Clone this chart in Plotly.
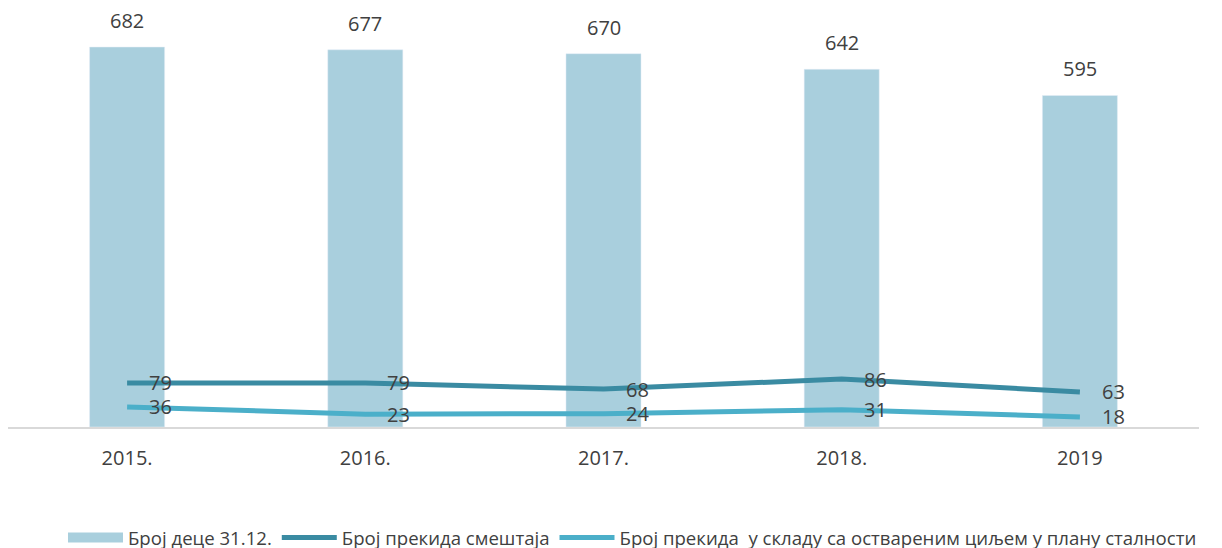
import plotly.graph_objects as go

years = ["2015.", "2016.", "2017.", "2018.", "2019"]
children = [682, 677, 670, 642, 595]
placement_breaks = [79, 79, 68, 86, 63]
goal_breaks = [36, 23, 24, 31, 18]

names = ["Број деце 31.12.", "Број прекида смештаја",
         "Број прекида  у складу са оствареним циљем у плану сталности"]

bar_color = "#A9CFDD"
dark_line = "#3A8BA2"
light_line = "#4BAFC9"
text_color = "#404040"
font_family = "Open Sans"

fig = go.Figure()
fig.add_trace(go.Bar(x=years, y=children, name=names[0],
                     marker_color=bar_color, showlegend=False))
# legend swatch for the bars: a wide flat rectangle like the original
fig.add_trace(go.Scatter(x=[None], y=[None], name=names[0], mode="lines",
                         line=dict(color=bar_color, width=10)))
fig.add_trace(go.Scatter(x=years, y=placement_breaks, name=names[1], mode="lines",
                         line=dict(color=dark_line, width=5)))
fig.add_trace(go.Scatter(x=years, y=goal_breaks, name=names[2], mode="lines",
                         line=dict(color=light_line, width=5)))

# bar labels above the bars (x given as category index, since the labels look numeric)
for i, v in enumerate(children):
    fig.add_annotation(x=i, y=v, text=str(v), showarrow=False, yanchor="bottom",
                       yshift=11, font=dict(size=20, color=text_color))
# line labels to the right of each point
for series in (placement_breaks, goal_breaks):
    for i, v in enumerate(series):
        fig.add_annotation(x=i, y=v, text=str(v), showarrow=False, xanchor="left",
                           xshift=20, font=dict(size=20, color=text_color))

fig.update_layout(
    width=1222, height=548,
    margin=dict(l=0, r=31, t=12, b=129),
    plot_bgcolor="white", paper_bgcolor="white",
    font=dict(family=font_family, color=text_color),
    bargap=0.685,
    showlegend=True,
    legend=dict(orientation="h", yref="container", y=0.033, yanchor="middle",
                xref="container", x=0.045, xanchor="left", itemwidth=55,
                font=dict(size=18.6, color=text_color), traceorder="normal"),
)
fig.update_xaxes(type="category", range=[-0.5, 4.5], showgrid=False, showline=True,
                 linecolor="#D9D9D9", linewidth=2, ticks="outside", ticklen=12,
                 tickcolor="rgba(0,0,0,0)", tickfont=dict(size=20, color=text_color))
fig.update_yaxes(range=[0, 730.5], visible=False)

fig.write_html("out.html")
